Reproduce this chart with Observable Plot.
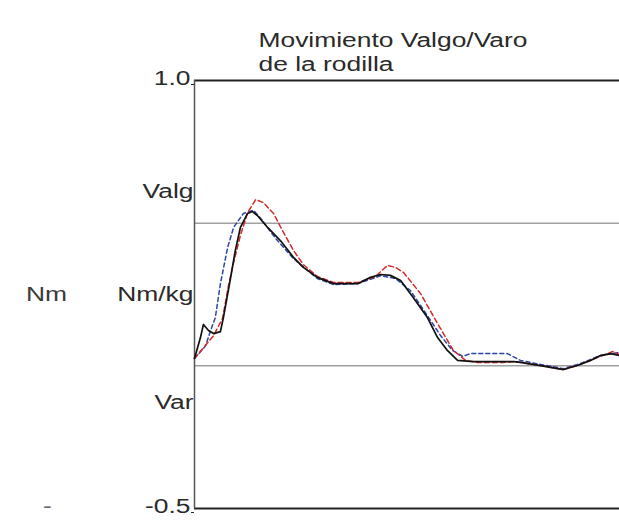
<!DOCTYPE html>
<html>
<head>
<meta charset="utf-8">
<script src="https://cdn.jsdelivr.net/npm/d3@7"></script>
<script src="https://cdn.jsdelivr.net/npm/@observablehq/plot@0.6"></script>
<style>
  html, body { margin: 0; padding: 0; background: #fff; }
  #chart { width: 619px; height: 525px; overflow: hidden; }
</style>
</head>
<body>
<div id="chart"></div>
<script>
// Knee valgus/varus moment over the gait cycle (% of cycle), Nm/kg
const pctBlack = [0, 1.4, 2.1, 3.3, 4.5, 6.1, 6.8, 8.5, 9.6, 10.8, 12.5, 13.6, 14.8, 17.2, 20.2, 23.3, 25.6, 28.9, 32.7, 38.4, 41.4, 43.8, 46.1, 48.5, 51.5, 54.8, 57.2, 59.5, 61.9, 65.6, 75.1, 76.7, 81.4, 86.8, 90.1, 93.2, 95.5, 97.9, 100];
const momBlack = [0.026, 0.099, 0.145, 0.124, 0.113, 0.120, 0.169, 0.309, 0.404, 0.485, 0.534, 0.541, 0.527, 0.485, 0.439, 0.380, 0.345, 0.310, 0.288, 0.288, 0.310, 0.320, 0.317, 0.299, 0.239, 0.169, 0.099, 0.054, 0.019, 0.015, 0.015, 0.012, 0.001, -0.013, 0.001, 0.019, 0.036, 0.043, 0.036];

const pctRed = [0, 4.5, 6.6, 8.0, 9.2, 10.8, 12.5, 14.4, 16.2, 18.6, 20.7, 23.3, 25.6, 28.9, 32.7, 38.4, 42.6, 45.4, 47.3, 49.2, 53.2, 57.2, 60.9, 63.8, 66.6, 72.7, 75.5, 81.4, 86.8, 90.8, 95.5, 98.4, 100];
const momRed = [0.026, 0.106, 0.166, 0.281, 0.362, 0.457, 0.537, 0.583, 0.572, 0.534, 0.474, 0.404, 0.355, 0.313, 0.292, 0.292, 0.313, 0.352, 0.345, 0.327, 0.253, 0.148, 0.054, 0.019, 0.012, 0.012, 0.015, 0.001, -0.013, 0.005, 0.033, 0.050, 0.040];

const pctBlue = [0, 2.6, 3.8, 4.9, 6.1, 7.8, 9.2, 11.5, 13.9, 16.0, 19.1, 23.3, 28.9, 32.7, 38.4, 43.8, 47.3, 50.8, 54.8, 57.9, 60.7, 63.1, 64.9, 73.6, 76.7, 81.4, 86.8, 90.8, 95.5, 100];
const momBlue = [0.026, 0.070, 0.124, 0.169, 0.288, 0.415, 0.485, 0.534, 0.545, 0.509, 0.446, 0.376, 0.306, 0.285, 0.288, 0.316, 0.306, 0.264, 0.176, 0.106, 0.054, 0.033, 0.043, 0.043, 0.019, 0.005, -0.010, 0.008, 0.036, 0.047];

const yTicks = [-0.5, 1.0];
const refLines = [0, 0.5];
const titleLines = ["Movimiento Valgo/Varo", "de la rodilla"];
const sideLabels = [
  {y: 0.61, text: "Valg"},
  {y: 0.25, text: "Nm/kg"},
  {y: -0.13, text: "Var"}
];

const toRows = (xs, ys) => xs.map((x, i) => ({x, y: ys[i]}));
const black = toRows(pctBlack, momBlack);
const red = toRows(pctRed, momRed);
const blue = toRows(pctBlue, momBlue);

const font = "Liberation Sans, Arial, sans-serif";
const ink = "#2a2a2a";
const fs = 20;

const chart = Plot.plot({
  width: 619,
  height: 525,
  marginLeft: 194,
  marginRight: 0,
  marginTop: 80,
  marginBottom: 17,
  style: {fontFamily: font, fontSize: fs + "px", color: ink, background: "#fff"},
  x: {domain: [0, 100], axis: null},
  y: {domain: [-0.5, 1.0], axis: null},
  marks: [
    Plot.ruleY(refLines, {stroke: "#a0a0a0", strokeWidth: 1.5}),
    Plot.ruleY(yTicks, {stroke: "#222", strokeWidth: 2}),
    Plot.ruleX([0], {stroke: "#555", strokeWidth: 1.5}),
    Plot.line(blue, {x: "x", y: "y", stroke: "#2a46a8", strokeWidth: 1.5, strokeDasharray: "4,3"}),
    Plot.line(red, {x: "x", y: "y", stroke: "#d42a2a", strokeWidth: 1.5, strokeDasharray: "5,3"}),
    Plot.line(black, {x: "x", y: "y", stroke: "#111", strokeWidth: 1.7}),
    Plot.axisY(yTicks, {label: null, tickSize: 3, tickPadding: 1, tickFormat: d => d.toFixed(1), stroke: "#222", fontSize: fs, fill: ink, lineAnchor: "bottom", dy: 4}),
    Plot.text(sideLabels, {x: 0, y: "y", text: "text", textAnchor: "end", dx: -1, fill: ink, fontSize: fs}),
    Plot.text([{y: 0.25}], {frameAnchor: "left", y: "y", text: () => "Nm", textAnchor: "middle", dx: -148, fill: "#3a3a3a", fontSize: fs}),
    Plot.text([{y: -0.5}], {frameAnchor: "left", y: "y", text: () => "-", textAnchor: "middle", dx: -147, dy: -2, fill: "#666", fontSize: fs}),
    Plot.text([titleLines[0]], {frameAnchor: "top-left", text: d => d, textAnchor: "start", dx: 64, dy: -48, fill: ink, fontSize: fs}),
    Plot.text([titleLines[1]], {frameAnchor: "top-left", text: d => d, textAnchor: "start", dx: 64, dy: -24, fill: ink, fontSize: fs})
  ]
});

document.getElementById("chart").appendChild(chart);

// The lettering of this figure is set wide: stretch each label horizontally
const widen = 1.32;
chart.querySelectorAll("text").forEach(t => {
  const len = t.getComputedTextLength();
  if (len > 0) {
    t.setAttribute("textLength", (len * widen).toFixed(1));
    t.setAttribute("lengthAdjust", "spacingAndGlyphs");
  }
});
</script>
</body>
</html>
